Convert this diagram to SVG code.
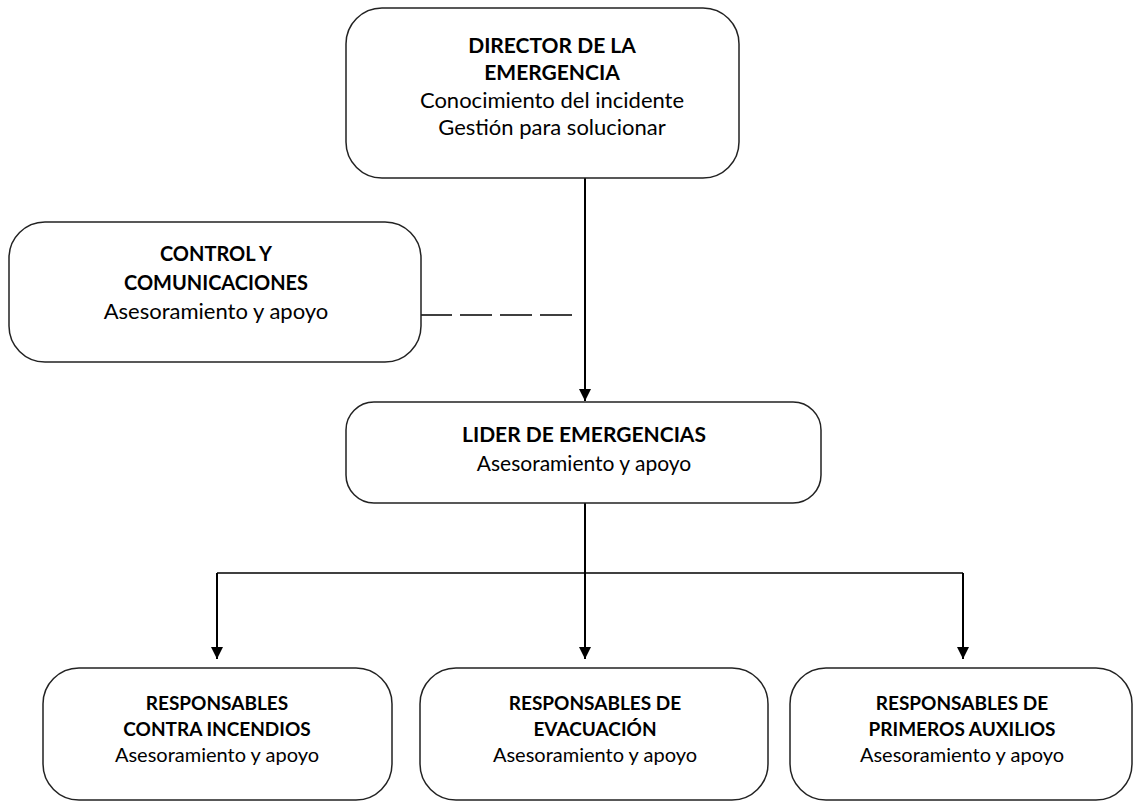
<svg xmlns="http://www.w3.org/2000/svg" width="1136" height="802" viewBox="0 0 1136 802">
<defs>
<style>
.box{fill:#fff;stroke:#222;stroke-width:1.5}
text{font-family:Lato,"Liberation Sans",sans-serif;fill:#000;text-anchor:middle}
.t{font-size:22px}
.t.b{font-size:21px}
.c{font-size:22px}
.c.b{font-size:20px}
.l{font-size:21px}
.r{font-size:20px}
.r.b{font-size:19px}
.b{font-weight:bold}
.ln{stroke:#000;stroke-width:2;fill:none}
</style>
<marker id="ah" viewBox="0 0 12 12" refX="12" refY="6" markerWidth="12" markerHeight="12" markerUnits="userSpaceOnUse" orient="auto">
<path d="M0,0 L12,6 L0,12 Z" fill="#000"/>
</marker>
</defs>
<g id="connectors">
<line class="ln" x1="585" y1="178" x2="585" y2="401" marker-end="url(#ah)"/>
<line x1="420" y1="315" x2="572" y2="315" stroke="#000" stroke-width="1.5" stroke-dasharray="32 8"/>
<line class="ln" x1="585" y1="503" x2="585" y2="573"/>
<line x1="217" y1="573" x2="963" y2="573" stroke="#000" stroke-width="1.5"/>
<line class="ln" x1="217" y1="573" x2="217" y2="659" marker-end="url(#ah)"/>
<line class="ln" x1="585" y1="573" x2="585" y2="659" marker-end="url(#ah)"/>
<line class="ln" x1="963" y1="573" x2="963" y2="659" marker-end="url(#ah)"/>
</g>
<g id="director">
<rect class="box" x="346" y="8" width="393" height="170" rx="36"/>
<text class="t b" x="552" y="53">DIRECTOR DE LA</text>
<text class="t b" x="552" y="80">EMERGENCIA</text>
<text class="t" x="552" y="108">Conocimiento del incidente</text>
<text class="t" x="552" y="135">Gestión para solucionar</text>
</g>
<g id="control">
<rect class="box" x="9" y="222" width="412" height="140" rx="36"/>
<text class="c b" x="216" y="261">CONTROL Y</text>
<text class="c b" x="216" y="290">COMUNICACIONES</text>
<text class="c" x="216" y="319">Asesoramiento y apoyo</text>
</g>
<g id="lider">
<rect class="box" x="346" y="402" width="475" height="101" rx="28"/>
<text class="l b" x="584" y="442">LIDER DE EMERGENCIAS</text>
<text class="l" x="584" y="471">Asesoramiento y apoyo</text>
</g>
<g id="incendios">
<rect class="box" x="43" y="668" width="349" height="132" rx="36"/>
<text class="r b" x="217" y="710">RESPONSABLES</text>
<text class="r b" x="217" y="736">CONTRA INCENDIOS</text>
<text class="r" x="217" y="762">Asesoramiento y apoyo</text>
</g>
<g id="evacuacion">
<rect class="box" x="420" y="668" width="348" height="132" rx="36"/>
<text class="r b" x="595" y="710">RESPONSABLES DE</text>
<text class="r b" x="595" y="736">EVACUACIÓN</text>
<text class="r" x="595" y="762">Asesoramiento y apoyo</text>
</g>
<g id="auxilios">
<rect class="box" x="790" y="668" width="342" height="132" rx="36"/>
<text class="r b" x="962" y="710">RESPONSABLES DE</text>
<text class="r b" x="962" y="736">PRIMEROS AUXILIOS</text>
<text class="r" x="962" y="762">Asesoramiento y apoyo</text>
</g>
</svg>
